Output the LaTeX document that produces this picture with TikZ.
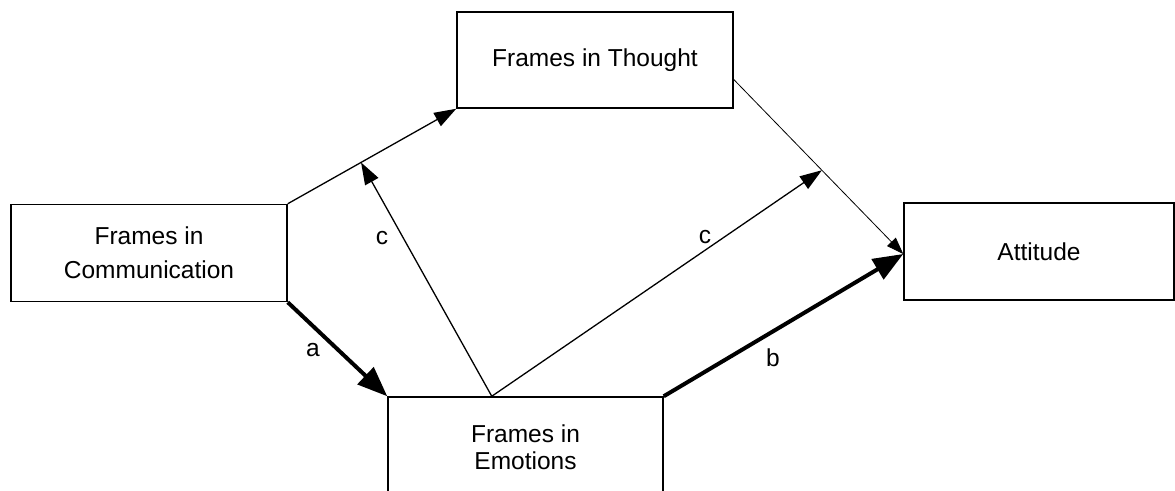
\documentclass[tikz,border=0pt]{standalone}
\usepackage{fontspec}
\setmainfont{Liberation Sans}
\usetikzlibrary{arrows.meta,calc}
\begin{document}
\begin{tikzpicture}[x=1pt,y=-1pt,
  box/.style={draw,line width=1.5pt,inner sep=0pt,align=center,
    font=\fontsize{24.5}{27}\selectfont},
  thinarrow/.style={line width=1.3pt,-{Triangle[length=22pt,width=15pt]}},
  hairarrow/.style={line width=0.8pt,-{Triangle[length=17pt,width=12pt]}},
  heavyarrow/.style={line width=4pt,-{Triangle[length=30pt,width=23pt]}},
  lbl/.style={font=\fontsize{24.5}{27}\selectfont,inner sep=0pt}]
\useasboundingbox (0,0) rectangle (1175,490);
\clip (0,0) rectangle (1175,490);

% boxes
\node[box,minimum width=276pt,minimum height=96pt] (thought) at (595,60) {Frames in Thought};
\node[box,minimum width=276pt,minimum height=97pt,font=\fontsize{24.5}{34}\selectfont] (comm) at (149,253) {Frames in\\Communication};
\node[box,minimum width=270pt,minimum height=97pt] (attitude) at (1039,251.5) {Attitude};
\node[box,minimum width=275pt,minimum height=100pt] (emotions) at (525.5,447) {Frames in\\Emotions};

% helper points
\coordinate (attend) at ([yshift=-2.5pt]attitude.west);
\coordinate (tr) at ($(thought.south east)!0.3!(thought.north east)$);
\coordinate (src) at ($(emotions.north west)!0.378!(emotions.north east)$);
\coordinate (m1) at ($(comm.north east)!0.435!(thought.south west)$);
\coordinate (m2) at ($(tr)!0.52!(attend)$);

% connectors
\draw[thinarrow] (comm.north east) -- (thought.south west);
\draw[heavyarrow] (comm.south east) -- (emotions.north west);
\draw[heavyarrow] (emotions.north east) -- (attend);
\draw[hairarrow] (tr) -- (attend);
\draw[thinarrow] (src) -- (m1);
\draw[thinarrow] (src) -- (m2);

% labels
\node[lbl] (la) at (313,350) {a};
\node[lbl] (lb) at (773,358) {b};
\node[lbl] (lc1) at (382,238) {c};
\node[lbl] (lc2) at (705,237) {c};
\end{tikzpicture}
\end{document}
